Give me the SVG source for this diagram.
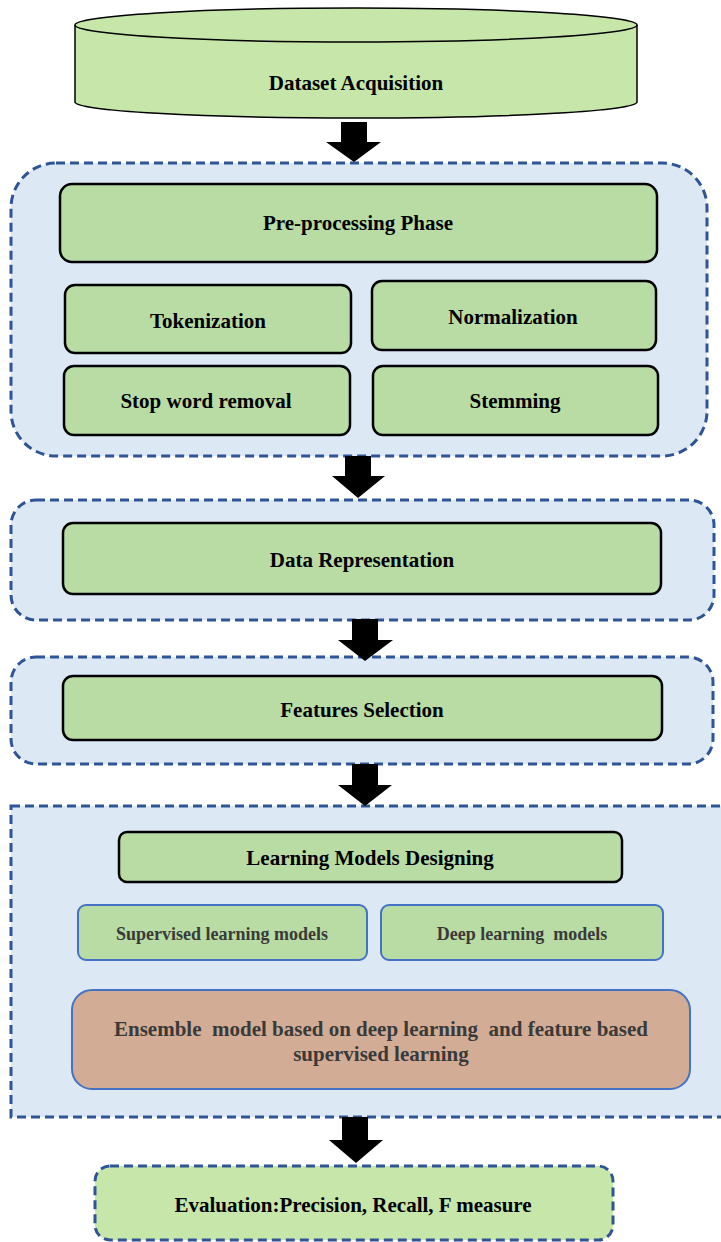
<svg xmlns="http://www.w3.org/2000/svg" width="721" height="1242" viewBox="0 0 721 1242">
<style>
.cont{fill:#dde8f5;stroke:#2f5597;stroke-width:3;stroke-dasharray:9 5}
.box{fill:#b8dca3;stroke:#000;stroke-width:2.5}
.sub{fill:#b8dca3;stroke:#4472c4;stroke-width:2}
.t{font-family:"Liberation Serif","Times New Roman",serif;font-weight:bold;font-size:21px;fill:#000;text-anchor:middle}
.g{fill:#3a3a3a}
.s{font-size:18px}
.arr{fill:#000}
</style>
<g id="dataset">
<path d="M75,25 L75,102 A281,16 0 0 0 637,102 L637,25" fill="#c7e6a9" stroke="#000" stroke-width="1.5"/>
<ellipse cx="356" cy="25" rx="281" ry="17" fill="#c7e6a9" stroke="#000" stroke-width="1.5"/>
<text class="t" x="356" y="90">Dataset Acquisition</text>
</g>
<g id="preprocessing-container">
<rect class="cont" x="11" y="163" width="696" height="293" rx="45"/>
</g>
<g id="preprocessing">
<rect class="box" x="60" y="184" width="597" height="78" rx="12"/>
<text class="t" x="358" y="230">Pre-processing Phase</text>
</g>
<g id="tokenization">
<rect class="box" x="65" y="285" width="286" height="68" rx="10"/>
<text class="t" x="208" y="328">Tokenization</text>
</g>
<g id="normalization">
<rect class="box" x="372" y="281" width="284" height="69" rx="10"/>
<text class="t" x="513" y="324">Normalization</text>
</g>
<g id="stopword">
<rect class="box" x="64" y="366" width="286" height="69" rx="10"/>
<text class="t" x="206" y="408">Stop word removal</text>
</g>
<g id="stemming">
<rect class="box" x="373" y="366" width="285" height="69" rx="10"/>
<text class="t" x="515" y="408">Stemming</text>
</g>
<g id="datarep-container">
<rect class="cont" x="11" y="500" width="703" height="120" rx="25"/>
</g>
<g id="datarep">
<rect class="box" x="63" y="523" width="598" height="71" rx="10"/>
<text class="t" x="362" y="567">Data Representation</text>
</g>
<g id="features-container">
<rect class="cont" x="11" y="657" width="702" height="107" rx="25"/>
</g>
<g id="features">
<rect class="box" x="63" y="676" width="599" height="64" rx="10"/>
<text class="t" x="362" y="717">Features Selection</text>
</g>
<g id="learning-container">
<rect class="cont" x="11" y="806" width="720" height="311"/>
</g>
<g id="learning">
<rect class="box" x="119" y="832" width="503" height="50" rx="8"/>
<text class="t" x="370" y="865">Learning Models Designing</text>
</g>
<g id="supervised">
<rect class="sub" x="78" y="905" width="289" height="55" rx="8"/>
<text class="t g s" x="222" y="940">Supervised learning models</text>
</g>
<g id="deep">
<rect class="sub" x="381" y="905" width="282" height="55" rx="8"/>
<text class="t g s" x="522" y="940" style="white-space:pre">Deep learning  models</text>
</g>
<g id="ensemble">
<rect x="72" y="990" width="618" height="99" rx="20" fill="#d3ac95" stroke="#4472c4" stroke-width="2"/>
<text class="t g" x="381" y="1036" style="white-space:pre">Ensemble  model based on deep learning  and feature based</text>
<text class="t g" x="381" y="1061">supervised learning</text>
</g>
<g id="evaluation">
<rect x="95" y="1166" width="518" height="74" rx="15" fill="#c7e6a9" stroke="#2f5597" stroke-width="3" stroke-dasharray="9 5"/>
<text class="t" x="353" y="1212">Evaluation:Precision, Recall, F measure</text>
</g>
<g id="connectors">
<polygon class="arr" points="341,122 367,122 367,142 381,142 354,162 326,142 341,142"/>
<polygon class="arr" points="345,456 371,456 371,476 385,476 358,498 332,476 345,476"/>
<polygon class="arr" points="352,619 378,619 378,640 393,640 365,661 338,640 352,640"/>
<polygon class="arr" points="352,764 378,764 378,785 392,785 365,806 338,785 352,785"/>
<polygon class="arr" points="342,1117 368,1117 368,1140 383,1140 356,1163 329,1140 342,1140"/>
</g>
</svg>
